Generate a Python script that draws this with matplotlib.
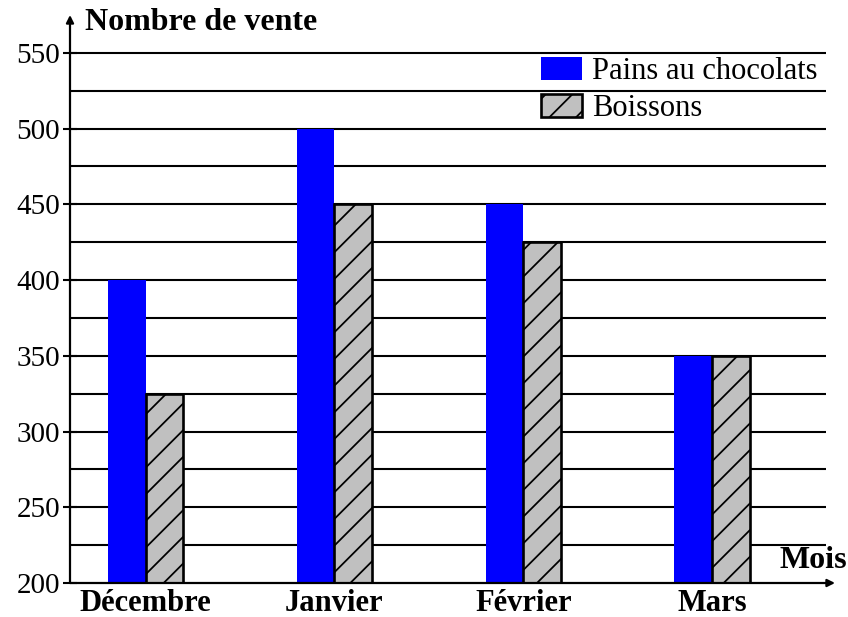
import numpy as np
import matplotlib
matplotlib.use("Agg")
import matplotlib.pyplot as plt

mois = ["Décembre", "Janvier", "Février", "Mars"]
pains = [400, 500, 450, 350]
boissons = [325, 450, 425, 350]
yticks = [200, 250, 300, 350, 400, 450, 500, 550]
grid_levels = list(range(225, 551, 25))

# rendered at 80 dpi so the hatch spacing matches; sizes below are given
# as if at 100 dpi and scaled by k
k = 100 / 80
plt.rcParams['font.family'] = ['Liberation Serif', 'DejaVu Serif']
plt.rcParams['hatch.linewidth'] = 1.6

fig = plt.figure(figsize=(848/80, 617/80), dpi=80)
ax = fig.add_axes([70/848, 34/617, 765/848, 568/617])

x = np.arange(len(mois))
w = 0.2

ax.hlines(grid_levels, -0.40, 3.6, color='black', lw=1.5*k, zorder=1)

ax.bar(x - w/2, pains, w, color='#0000ff', edgecolor='none',
       label='Pains au chocolats', zorder=2)
ax.bar(x + w/2, boissons, w, color='#c0c0c0', edgecolor='black', lw=1.9*k,
       hatch='/', label='Boissons', zorder=2)

ax.set_xlim(-0.40, 3.65)
ax.set_ylim(200, 575)

for s in ax.spines.values():
    s.set_visible(False)

arrow = dict(arrowstyle='-|>', color='black', lw=1.6*k,
             mutation_scale=11*k, shrinkA=0, shrinkB=0)
ax.annotate('', xy=(0, 1), xytext=(0, 0), xycoords='axes fraction',
            arrowprops=arrow)
ax.annotate('', xy=(1, 0), xytext=(0, 0), xycoords='axes fraction',
            arrowprops=arrow)

ax.set_yticks(yticks)
ax.tick_params(axis='y', direction='inout', length=10*k, width=1.5*k,
               labelsize=21*k, pad=2*k)
ax.set_xticks(x)
ax.set_xticklabels(mois, fontweight='bold', fontsize=22*k)
ax.tick_params(axis='x', length=0, pad=4*k)

fig.text(85/848, 1 - 22/617, 'Nombre de vente', fontweight='bold',
         fontsize=23*k, va='center', ha='left')
fig.text(847/848, 1 - 560/617, 'Mois', fontweight='bold',
         fontsize=23*k, va='center', ha='right')

ax.legend(loc='upper left', bbox_to_anchor=(541/848, 1 - 57/617),
          bbox_transform=fig.transFigure, frameon=False,
          fontsize=22*k, handlelength=1.34, handleheight=0.78,
          handletextpad=0.33, labelspacing=0.25, borderpad=0,
          borderaxespad=0)

fig.savefig('out.png', dpi=80)
